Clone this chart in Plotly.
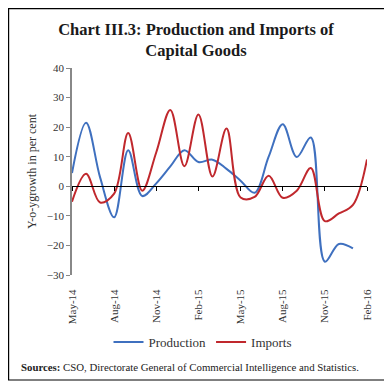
import plotly.graph_objects as go

months = ['May-14', 'Jun-14', 'Jul-14', 'Aug-14', 'Sep-14', 'Oct-14', 'Nov-14', 'Dec-14',
          'Jan-15', 'Feb-15', 'Mar-15', 'Apr-15', 'May-15', 'Jun-15', 'Jul-15', 'Aug-15',
          'Sep-15', 'Oct-15', 'Nov-15', 'Dec-15', 'Jan-16', 'Feb-16']
production = [4.5, 21.5, 3.0, -10.5, 12.2, -3.3, 1.0, 6.7, 12.2, 8.2, 9.0, 5.9, 1.9, -2.2,
              10.0, 21.0, 9.9, 16.5, -25.5, -19.5, -21.0, None]
imports = [-5.2, 4.2, -5.5, -2.5, 18.0, -1.5, 11.5, 25.8, 6.8, 24.3, 3.3, 19.5, -3.8, -3.6,
           3.6, -3.9, -1.5, 6.2, -11.8, -9.2, -6.3, 9.1]
tick_months = months[::3]
y_ticks = [40, 30, 20, 10, 0, -10, -20, -30]

FONT = "Liberation Serif"
BLUE = "#3f70bf"
RED = "#c0282d"

fig = go.Figure()
fig.add_trace(go.Scatter(x=months, y=production, name="Production", mode="lines",
                         line=dict(color=BLUE, width=2, shape="spline", smoothing=1.0)))
fig.add_trace(go.Scatter(x=months, y=imports, name="Imports", mode="lines",
                         line=dict(color=RED, width=2, shape="spline", smoothing=1.0)))
# invisible trace to activate the zero-position axis
fig.add_trace(go.Scatter(x=months, y=[None] * len(months), xaxis="x2", showlegend=False,
                         hoverinfo="skip"))

# page is rendered with an 8px body margin, so figure coords = page coords - 8
OFF = 8
W, H = 392 - OFF, 387 - OFF
L = 72 - OFF
T = 68 - OFF
R = W - (367 - OFF)
B = H - (275 - OFF)
pw, ph = W - L - R, H - T - B
ymin, ymax = -30, 40
zero_pos = (0 - ymin) / (ymax - ymin)


def px(xp):  # page x -> paper fraction
    return (xp - OFF - L) / pw


def py(yp):  # page y -> paper fraction
    return (T + ph - (yp - OFF)) / ph


fig.update_layout(
    width=W, height=H,
    margin=dict(l=L, r=R, t=T, b=B, autoexpand=False),
    paper_bgcolor="white", plot_bgcolor="white",
    font=dict(family=FONT, color="#333333", size=11),
    title=dict(text="<b>Chart III.3: Production and Imports of<br>Capital Goods</b>",
               x=(196 - OFF) / W, xanchor="center", xref="container",
               y=1 - (35 - OFF) / H, yanchor="middle", yref="container", automargin=False,
               font=dict(family=FONT, size=16.5, color="#1a1a1a")),
    xaxis=dict(type="category", categoryorder="array", categoryarray=months,
               range=[0, len(months) - 1], tickvals=tick_months, ticktext=tick_months,
               tickangle=-90, showline=False, showgrid=False, zeroline=False,
               ticks="outside", ticklen=9, tickcolor="rgba(0,0,0,0)", automargin=False,
               tickfont=dict(family=FONT, size=11, color="#333333")),
    xaxis2=dict(type="category", categoryorder="array", categoryarray=months,
                range=[0, len(months) - 1], tickvals=tick_months, overlaying="x",
                anchor="free", position=zero_pos, showline=True, linecolor="#000000",
                linewidth=1.2, ticks="outside", ticklen=4, tickcolor="#000000",
                showticklabels=False, showgrid=False, zeroline=False, automargin=False),
    yaxis=dict(range=[ymin, ymax], tickvals=y_ticks, showgrid=False, zeroline=False,
               showline=True, linecolor="#888888", linewidth=1.5, automargin=False,
               ticks="outside", ticklen=4, tickcolor="#888888",
               tickfont=dict(family=FONT, size=11, color="#333333"),
               title=dict(text="Y-o-ygrowth in per cent", standoff=8,
                          font=dict(family=FONT, size=12, color="#333333"))),
    legend=dict(orientation="h", xref="container", yref="container",
                x=(203 - OFF) / W, xanchor="center", y=1 - (342 - OFF) / H, yanchor="middle",
                font=dict(family=FONT, size=13, color="#333333"),
                itemwidth=30, bgcolor="rgba(0,0,0,0)"),
    showlegend=True,
)

fig.add_annotation(xref="paper", yref="paper",
                   x=px(19), y=py(367), xanchor="left", yanchor="middle",
                   text="<b>Sources:</b> CSO, Directorate General of Commercial Intelligence and Statistics.",
                   showarrow=False, font=dict(family=FONT, size=10.8, color="#222222"))

fig.add_shape(type="rect", xref="paper", yref="paper",
              x0=px(8.6), x1=px(385), y0=py(380), y1=py(8.6),
              line=dict(color="#000000", width=1.2), fillcolor="rgba(0,0,0,0)", layer="below")

fig.write_html("out.html")
